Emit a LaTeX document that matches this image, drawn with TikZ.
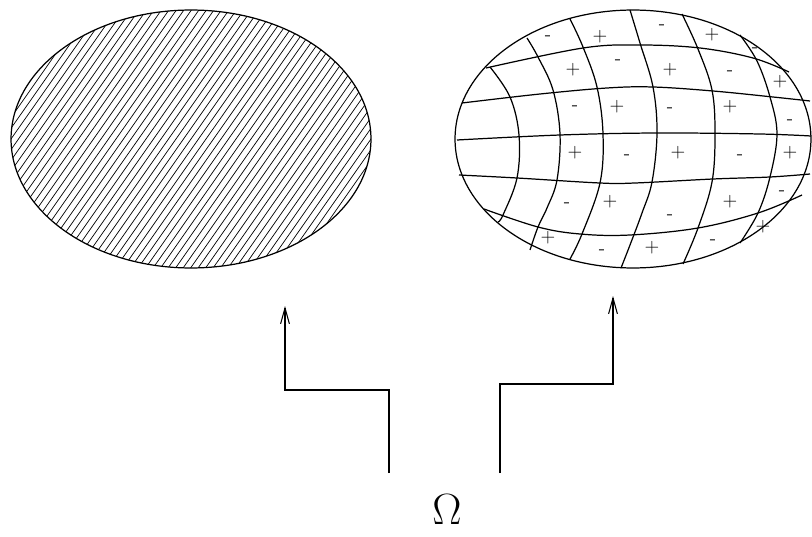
\documentclass[tikz,border=0pt]{standalone}
\usepackage{tikz}
\usetikzlibrary{arrows.meta, shapes.geometric}

\begin{document}
\begin{tikzpicture}[x=0.02cm, y=-0.02cm,
  blob/.style={draw, ellipse, line width=0.7pt, minimum height=5.16cm, inner sep=0pt},
  hatch/.style={line width=0.4pt},
  gridline/.style={line width=0.7pt, smooth, tension=0.6},
  sgn/.style={font=\fontsize{11}{11}\selectfont, inner sep=0pt},
  route/.style={line width=0.6pt, -{Straight Barb[length=9pt,width=5pt]}}
]
\useasboundingbox (0,0) rectangle (812,537);

% the two domains
\node[blob, minimum width=7.2cm] (hatched) at (191,139) {};
\node[blob, minimum width=7.12cm] (split) at (633,139) {};

% hatching of the left one
\begin{scope}
  \clip (191,139) ellipse [x radius=180, y radius=129];
  \foreach \k in {-40,...,40}
    \draw[hatch] ({191+7.5*\k-0.574*200},{139+0.819*200}) -- ++({0.574*400},{-0.819*400});
\end{scope}

% curved grid of the right one
\draw[gridline] plot coordinates {(486,68) (583,48) (640,45) (700,48) (753,58) (789,72)};
\draw[gridline] plot coordinates {(462,103) (540,94) (607,88) (653,87) (713,91) (773,97) (810,101)};
\draw[gridline] plot coordinates {(457,140) (560,135) (657,133) (760,134) (811,136)};
\draw[gridline] plot coordinates {(459,175) (517,178) (600,183) (635,183) (713,179) (770,177) (810,174)};
\draw[gridline] plot coordinates {(484,209) (538,227) (580,234) (630,235) (698,228) (758,213) (802,195)};

\draw[gridline] plot coordinates {(490,67) (510,97) (519,135) (517,178) (503,215) (498,222)};
\draw[gridline] plot coordinates {(527,38) (538,57) (553,90) (560,134) (557,180) (547,208) (538,227) (530,250)};
\draw[gridline] plot coordinates {(570,19) (583,47) (597,87) (603,134) (600,183) (582,234) (570,259)};
\draw[gridline] plot coordinates {(630,10) (640,43) (653,87) (657,133) (652,182) (642,213) (630,245) (621,268)};
\draw[gridline] plot coordinates {(682,14) (698,49) (712,90) (715,134) (712,182) (698,228) (683,264)};
\draw[gridline] plot coordinates {(740,35) (757,61) (770,97) (777,134) (770,177) (758,213) (740,243)};

% signs in the cells
\foreach \s/\x/\y in {-/548/38, +/600/37, -/662/27, +/712/35, -/755/50,
                      +/573/70, -/618/62, +/670/70, -/730/73, +/780/82,
                      -/575/108, +/617/107, -/670/110, +/730/107, -/790/122,
                      +/575/153, -/627/157, +/678/153, -/740/157, +/790/153,
                      -/567/205, +/610/202, -/670/217, +/730/202, -/782/193,
                      +/548/238, -/602/252, +/652/248, -/713/242, +/763/227}
  \node[sgn] at (\x,\y) {\s};

% the set and its two maps
\node[font=\fontsize{25}{28}\selectfont] (omega) at (447,510) {$\Omega$};
\coordinate (lfoot) at (389,473);
\coordinate (ltip) at (285,306);
\coordinate (rfoot) at (500,473);
\coordinate (rtip) at (613,296);
\draw[route] (lfoot) -- ++(0,-83) -| (ltip);
\draw[route] (rfoot) -- ++(0,-89) -| (rtip);
\end{tikzpicture}
\end{document}
